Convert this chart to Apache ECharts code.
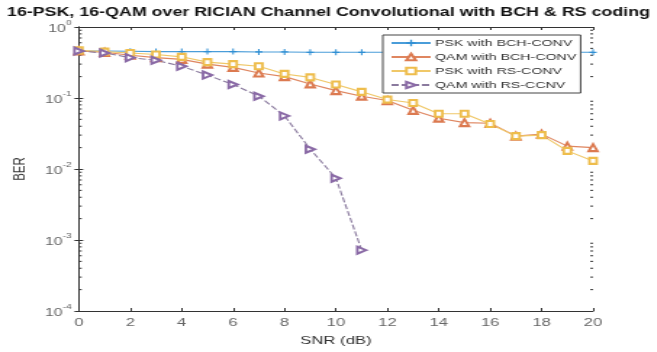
<!DOCTYPE html>
<html>
<head>
<meta charset="utf-8">
<script src="https://cdn.jsdelivr.net/npm/echarts@6/dist/echarts.min.js"></script>
<style>
  html, body { margin: 0; padding: 0; background: #fff; overflow: hidden; }
  #wrap { width: 657px; height: 352px; overflow: hidden; }
  #chart { width: 453px; height: 352px; transform: scaleX(1.45); transform-origin: 0 0; }
</style>
</head>
<body>
<div id="wrap"><div id="chart"></div></div>
<script>
// SNR sweep in dB
const snr = [0, 1, 2, 3, 4, 5, 6, 7, 8, 9, 10, 11, 12, 13, 14, 15, 16, 17, 18, 19, 20];

// Bit error rates per scheme
const pskBchConv = [0.46, 0.46, 0.455, 0.45, 0.45, 0.45, 0.45, 0.445, 0.445, 0.44, 0.44, 0.44, 0.44, 0.44, 0.44, 0.44, 0.44, 0.44, 0.44, 0.44, 0.44];
const qamBchConv = [0.46, 0.44, 0.40, 0.37, 0.35, 0.30, 0.27, 0.225, 0.20, 0.158, 0.127, 0.106, 0.092, 0.067, 0.052, 0.045, 0.044, 0.029, 0.031, 0.021, 0.020];
const pskRsConv = [0.47, 0.45, 0.43, 0.41, 0.38, 0.32, 0.30, 0.28, 0.218, 0.195, 0.155, 0.122, 0.095, 0.085, 0.06, 0.06, 0.043, 0.029, 0.030, 0.018, 0.013];
const qamRsConv = [0.46, 0.43, 0.37, 0.34, 0.28, 0.21, 0.155, 0.106, 0.056, 0.019, 0.0074, 0.00072];

const names = ['PSK with BCH-CONV', 'QAM with BCH-CONV', 'PSK with RS-CONV', 'QAM with RS-CCNV'];
const yMin = 1e-4, yMax = 1;
const xMin = 0, xMax = 20;

// log-axis minor tick positions: 2..9 inside each decade
const decades = [1e-4, 1e-3, 1e-2, 1e-1];
const minorSteps = [2, 3, 4, 5, 6, 7, 8, 9];

const pair = arr => arr.map((v, i) => [snr[i], v]);
const font = 'Liberation Sans, Arial, sans-serif';
const axisColor = '#333';

const chart = echarts.init(document.getElementById('chart'));

const yLabel = v => {
  const e = Math.round(Math.log10(v));
  return '{b|10}{s|' + e + '}';
};

const plus = 'path://M4,0 L6,0 L6,4 L10,4 L10,6 L6,6 L6,10 L4,10 L4,6 L0,6 L0,4 L4,4 Z';

const minorTickData = [];
decades.forEach(d => minorSteps.forEach(m => minorTickData.push([xMin, d * m])));

chart.setOption({
  animation: false,
  backgroundColor: '#fff',
  title: {
    text: '16-PSK, 16-QAM over RICIAN Channel Convolutional with BCH & RS coding',
    left: 'center',
    top: 2,
    textStyle: { fontFamily: font, fontSize: 12.3, fontWeight: 'bold', color: '#111' }
  },
  grid: { left: 49, right: 44, top: 27, bottom: 39 },
  legend: {
    orient: 'vertical',
    left: 264,
    top: 35,
    backgroundColor: '#fff',
    borderColor: '#444',
    borderWidth: 1,
    borderRadius: 0,
    padding: [3, 3, 3, 5],
    itemGap: 4,
    itemWidth: 27,
    itemHeight: 8,
    textStyle: { fontFamily: font, fontSize: 9.8, color: '#333', padding: [0, 0, 0, -2] },
    data: names
  },
  xAxis: [{
    type: 'value', min: xMin, max: xMax, interval: 2,
    name: 'SNR (dB)', nameLocation: 'middle', nameGap: 24,
    nameTextStyle: { fontFamily: font, fontSize: 11.5, color: '#333' },
    axisLine: { lineStyle: { color: axisColor, width: 1 } },
    axisTick: { inside: true, length: 3, lineStyle: { color: axisColor } },
    axisLabel: { fontFamily: font, fontSize: 11.5, color: '#666', margin: 6 },
    splitLine: { show: false }
  }, {
    type: 'value', min: xMin, max: xMax, interval: 2, position: 'top',
    axisLine: { show: true, lineStyle: { color: axisColor, width: 1 } },
    axisTick: { inside: true, length: 3, lineStyle: { color: axisColor } },
    axisLabel: { show: false },
    splitLine: { show: false }
  }],
  yAxis: [{
    type: 'log', min: yMin, max: yMax, logBase: 10,
    name: 'BER', nameLocation: 'middle', nameGap: 31,
    nameTextStyle: { fontFamily: font, fontSize: 11.5, color: '#333' },
    axisLine: { show: true, lineStyle: { color: axisColor, width: 1 } },
    axisTick: { inside: true, length: 3, lineStyle: { color: axisColor } },
    axisLabel: {
      formatter: yLabel, margin: 5, color: '#666',
      rich: {
        b: { fontFamily: font, fontSize: 11, color: '#666', verticalAlign: 'bottom', lineHeight: 14 },
        s: { fontFamily: font, fontSize: 7, color: '#666', verticalAlign: 'top', lineHeight: 14 }
      }
    },
    splitLine: { show: false }
  }, {
    type: 'log', min: yMin, max: yMax, logBase: 10, position: 'right',
    axisLine: { show: true, lineStyle: { color: axisColor, width: 1 } },
    axisTick: { inside: true, length: 3, lineStyle: { color: axisColor } },
    axisLabel: { show: false },
    splitLine: { show: false }
  }],
  series: [{
    name: names[0], type: 'line', data: pair(pskBchConv),
    symbol: plus, symbolSize: [5, 6],
    itemStyle: { color: '#2f8fd4' },
    lineStyle: { color: '#4a9dd9', width: 1.1 }
  }, {
    name: names[1], type: 'line', data: pair(qamBchConv),
    symbol: 'emptyTriangle', symbolSize: [6, 7],
    itemStyle: { color: '#dc7a50', borderWidth: 1.1 },
    lineStyle: { color: '#df8660', width: 1.1 }
  }, {
    name: names[2], type: 'line', data: pair(pskRsConv),
    symbol: 'emptyRect', symbolSize: [5, 6],
    itemStyle: { color: '#eebd4c', borderWidth: 1.1 },
    lineStyle: { color: '#f0c868', width: 1.1 }
  }, {
    name: names[3], type: 'line', data: pair(qamRsConv),
    symbol: 'emptyTriangle', symbolSize: [7, 6], symbolRotate: -90,
    itemStyle: { color: '#8a6aa6', borderWidth: 1.1 },
    lineStyle: { color: '#8a7a9e', width: 1.1, type: [5, 2] }
  }, {
    // minor ticks on both vertical box edges
    type: 'custom', silent: true, z: 1,
    data: minorTickData,
    renderItem: (params, api) => {
      const yv = api.value(1);
      const pl = api.coord([xMin, yv]);
      const pr = api.coord([xMax, yv]);
      const style = { stroke: axisColor, lineWidth: 1 };
      return {
        type: 'group',
        children: [
          { type: 'line', shape: { x1: pl[0], y1: pl[1], x2: pl[0] + 2, y2: pl[1] }, style },
          { type: 'line', shape: { x1: pr[0], y1: pr[1], x2: pr[0] - 2, y2: pr[1] }, style }
        ]
      };
    }
  }]
});
</script>
</body>
</html>
